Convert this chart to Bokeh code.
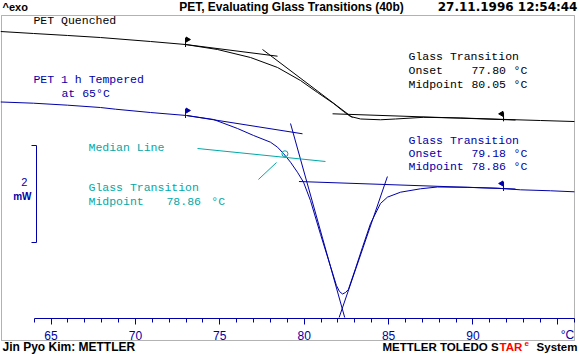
import math
from bokeh.plotting import figure
from bokeh.models import (Range1d, LinearAxis, SingleIntervalTicker, FixedTicker,
                          BoxAnnotation, CustomJSTickFormatter)
from bokeh.core.properties import value
from bokeh.embed import file_html
from bokeh.resources import INLINE

# ---------------- data (temperature in degC, heat flow in mW, exo up) ----------------
quench_T = [62.01, 63.96, 65.98, 67.93, 70.89, 72.97, 74.86, 76.82, 78.42, 79.78, 80.79,
            81.74, 82.33, 82.74, 83.34, 84.52, 85.41, 87.07, 89.26, 91.63, 94.00, 96.01]
quench_hf = [6.371, 6.330, 6.289, 6.247, 6.165, 6.103, 6.000, 5.835, 5.629, 5.361, 5.113,
             4.887, 4.722, 4.619, 4.567, 4.551, 4.567, 4.602, 4.588, 4.561, 4.536, 4.515]

temper_T = [62.01, 63.96, 65.98, 67.93, 68.82, 70.89, 73.03, 74.63, 76.05, 77.00,
            78.00, 78.42, 78.77, 79.19, 79.60, 79.96, 80.37, 80.97, 81.56, 81.91,
            82.09, 82.27, 82.45, 82.62, 83.04, 83.45, 83.93, 84.52, 84.93, 85.71,
            86.89, 87.90, 89.67, 91.45, 92.81, 94.59, 96.01]
temper_hf = [4.918, 4.893, 4.852, 4.804, 4.769, 4.701, 4.639, 4.557, 4.371, 4.227,
             4.089, 3.986, 3.856, 3.676, 3.470, 3.264, 2.887, 2.186, 1.526, 1.134,
             1.010, 0.959, 0.990, 1.052, 1.485, 1.918, 2.412, 2.825, 2.955, 3.058,
             3.128, 3.165, 3.159, 3.140, 3.107, 3.087, 3.066]

# evaluation tangents
quench_before_T, quench_before_hf = [72.97, 78.42], [6.103, 5.862]
quench_inflect_T, quench_inflect_hf = [77.53, 82.86], [6.000, 4.598]
quench_after_T, quench_after_hf = [81.68, 92.52], [4.674, 4.546]

temper_before_T, temper_before_hf = [73.03, 79.90], [4.639, 4.262]
temper_left_T, temper_left_hf = [79.19, 82.40], [4.474, 0.474]
temper_right_T, temper_right_hf = [84.93, 82.07], [3.381, 0.474]
temper_after_T, temper_after_hf = [79.69, 92.52], [3.278, 3.124]

median_T, median_hf = [73.68, 81.26], [3.959, 3.691]
median_mark_T, median_mark_hf = [77.29, 78.36], [3.320, 3.670]
midpoint_T, midpoint_hf = [78.86], [3.85]

# evaluation limits (flags)
limit_T = [72.97, 91.81]
quench_limit_hf = [6.103, 4.570]
temper_limit_hf = [4.639, 3.134]

# results
quench_onset, quench_mid = "77.80", "80.05"
temper_onset, temper_mid = "79.18", "78.86"
median_mid = "78.86"

# axis
x_tick_labels = {65: "65", 70: "70", 75: "75", 80: "80", 85: "85", 90: "90", 95: ""}
scale_bar_hf = [2.02, 4.02]   # 2 mW

# ---------------- styling ----------------
BLACK = "#000000"
BLUE = "#0000A8"
CYAN = "#00A8A8"
RED = "#FF0000"
MONO = "Liberation Mono"
SANS = "Liberation Sans"
PX_X = 1 / 16.88   # degC per pixel
PX_Y = 1 / 48.5    # mW per pixel

p = figure(width=579, height=354, output_backend="svg", toolbar_location=None,
           x_range=Range1d(62.008, 96.310), y_range=Range1d(-0.2887, 7.0103),
           x_axis_location=None, y_axis_location=None,
           min_border=0, min_border_left=0, min_border_right=0,
           min_border_top=0, min_border_bottom=0,
           background_fill_color="white", border_fill_color="white")
p.outline_line_color = None
p.grid.visible = False

# plot box
p.add_layout(BoxAnnotation(left=62.068, right=96.013, bottom=0.0, top=6.701,
                           fill_color=None, line_color=BLACK, line_width=1))

# x axis drawn inside the box
xax = LinearAxis(fixed_location=0.4536, bounds=(64, 96),
                 ticker=SingleIntervalTicker(interval=5, num_minor_ticks=5))
xax.major_label_overrides = x_tick_labels
xax.axis_line_color = BLUE
xax.major_tick_line_color = BLUE
xax.minor_tick_line_color = BLUE
xax.major_tick_out = 6
xax.major_tick_in = 0
xax.minor_tick_out = 4
xax.minor_tick_in = 0
xax.major_label_standoff = 7
xax.major_label_text_color = BLUE
xax.major_label_text_font = SANS
xax.major_label_text_font_size = "12px"
p.add_layout(xax, "below")

# 2 mW scale bar as a bounded axis
yax = LinearAxis(fixed_location=64.14, bounds=(scale_bar_hf[0], scale_bar_hf[1]),
                 ticker=FixedTicker(ticks=scale_bar_hf, minor_ticks=[]),
                 formatter=CustomJSTickFormatter(code="return ''"))
yax.axis_line_color = BLUE
yax.major_tick_line_color = BLUE
yax.major_tick_out = 5
yax.major_tick_in = 0
yax.minor_tick_line_color = None
p.add_layout(yax, "left")

# curves
p.line(quench_T, quench_hf, line_color=BLACK, line_width=1)
p.line(temper_T, temper_hf, line_color=BLUE, line_width=1)

for tx, ty in [(quench_before_T, quench_before_hf), (quench_inflect_T, quench_inflect_hf),
               (quench_after_T, quench_after_hf)]:
    p.line(tx, ty, line_color=BLACK, line_width=1)
for tx, ty in [(temper_before_T, temper_before_hf), (temper_left_T, temper_left_hf),
               (temper_right_T, temper_right_hf), (temper_after_T, temper_after_hf)]:
    p.line(tx, ty, line_color=BLUE, line_width=1)

p.line(median_T, median_hf, line_color=CYAN, line_width=1)
p.line(median_mark_T, median_mark_hf, line_color=CYAN, line_width=1)
p.scatter(midpoint_T, midpoint_hf, marker="circle", size=6, fill_color=None,
          line_color=CYAN, line_width=1)

# limit flags
for hf, col in [(quench_limit_hf, BLACK), (temper_limit_hf, BLUE)]:
    p.segment(x0=limit_T, y0=[h - 2.5 * PX_Y for h in hf],
              x1=limit_T, y1=[h + 6.5 * PX_Y for h in hf], line_color=col, line_width=1)
    p.scatter([limit_T[0] + 2 * PX_X], [hf[0] + 5 * PX_Y], marker="triangle", size=5,
              angle=-math.pi / 2, fill_color=col, line_color=col)
    p.scatter([limit_T[1] - 2 * PX_X], [hf[1] + 5 * PX_Y], marker="triangle", size=5,
              angle=math.pi / 2, fill_color=col, line_color=col)


def txt(x, y, s, color, size="11.5px", font=MONO, style="normal", align="left"):
    p.text(x=[x], y=[y], text=[s], text_color=color, text_font=value(font),
           text_font_size=size, text_font_style=style, text_align=align,
           text_baseline="middle")


# annotations (black)
txt(63.96, 6.598, "PET Quenched", BLACK)
txt(86.18, 5.856, "Glass Transition", BLACK)
txt(86.18, 5.567, "Onset", BLACK)
txt(89.91, 5.567, quench_onset, BLACK)
txt(92.40, 5.567, "°C", BLACK)
txt(86.18, 5.278, "Midpoint", BLACK)
txt(89.91, 5.278, quench_mid, BLACK)
txt(92.40, 5.278, "°C", BLACK)

# annotations (blue)
txt(63.96, 5.381, "PET 1 h Tempered", BLUE)
txt(65.62, 5.093, "at 65°C", BLUE)
txt(86.18, 4.124, "Glass Transition", BLUE)
txt(86.18, 3.856, "Onset", BLUE)
txt(89.91, 3.856, temper_onset, BLUE)
txt(92.40, 3.856, "°C", BLUE)
txt(86.18, 3.588, "Midpoint", BLUE)
txt(89.91, 3.588, temper_mid, BLUE)
txt(92.40, 3.588, "°C", BLUE)

# annotations (cyan)
txt(67.22, 3.979, "Median Line", CYAN)
txt(67.22, 3.155, "Glass Transition", CYAN)
txt(67.22, 2.866, "Midpoint", CYAN)
txt(71.84, 2.866, median_mid, CYAN)
txt(74.50, 2.866, "°C", CYAN)

# scale bar label
txt(63.42, 3.278, "2", BLUE, size="11px", font=SANS, align="center")
txt(63.30, 2.969, "mW", BLUE, size="10px", font=SANS, style="bold", align="center")

# x unit
txt(95.60, 0.12, "°C", BLUE, size="12px", font=SANS, align="center")

# header
txt(62.127, 6.866, "^exo", BLACK, size="11px", font=SANS, style="bold")
txt(79.248, 6.866, "PET, Evaluating Glass Transitions (40b)", BLACK, size="12px",
    font=SANS, style="bold", align="center")
txt(96.19, 6.866, "27.11.1996 12:54:44", BLACK, size="12px", font="DejaVu Sans",
    style="bold", align="right")

# footer
txt(62.127, -0.144, "Jin Pyo Kim: METTLER", BLACK, size="12px", font=SANS, style="bold")
txt(84.639, -0.144, "METTLER TOLEDO S", BLACK, size="11.5px", font=SANS, style="bold")
txt(91.570, -0.144, "TAR", RED, size="11.5px", font=SANS, style="bold")
txt(93.051, -0.062, "e", RED, size="8px", font=SANS, style="bold")
txt(96.19, -0.144, "System", BLACK, size="11.5px", font=SANS, style="bold", align="right")

open("out.html", "w").write(file_html(p, INLINE))
